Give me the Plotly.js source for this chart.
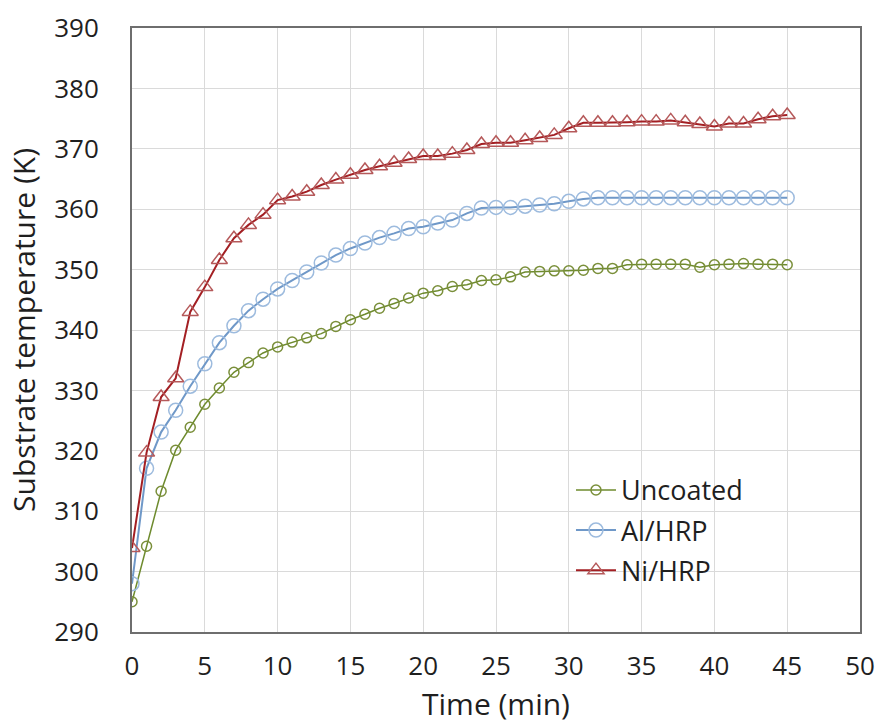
<!DOCTYPE html>
<html>
<head>
<meta charset="utf-8">
<script src="https://cdn.plot.ly/plotly-3.0.1.min.js"></script>
<style>html,body{margin:0;padding:0;background:#fff;}#chart{width:879px;height:724px;}</style>
</head>
<body>
<div id="chart"></div>
<script>
const timeMin = [0,1,2,3,4,5,6,7,8,9,10,11,12,13,14,15,16,17,18,19,20,21,22,23,24,25,26,27,28,29,30,31,32,33,34,35,36,37,38,39,40,41,42,43,44,45];
const uncoated = [295.0,304.2,313.3,320.1,323.9,327.7,330.4,333.0,334.6,336.2,337.2,338.0,338.7,339.4,340.6,341.7,342.6,343.6,344.4,345.3,346.1,346.5,347.2,347.5,348.2,348.3,348.8,349.6,349.7,349.8,349.8,349.9,350.2,350.2,350.8,350.9,350.9,350.9,350.9,350.4,350.8,350.9,351.0,350.9,350.9,350.8];
const alHRP = [298.0,317.1,323.1,326.7,330.7,334.4,337.9,340.7,343.2,345.1,346.8,348.2,349.6,351.1,352.4,353.5,354.4,355.3,356.0,356.8,357.1,357.7,358.2,359.3,360.2,360.3,360.3,360.5,360.7,360.9,361.3,361.7,361.9,361.9,361.9,361.9,361.9,361.9,361.9,361.9,361.9,361.9,361.9,361.9,361.9,361.9];
const niHRP = [303.9,319.7,328.9,332.0,343.0,347.1,351.6,355.2,357.4,359.1,361.5,362.1,362.9,364.0,364.9,365.7,366.5,367.1,367.7,368.3,368.8,368.8,369.2,369.8,370.8,371.0,371.0,371.4,371.8,372.3,373.4,374.3,374.3,374.3,374.4,374.5,374.5,374.7,374.4,374.1,373.7,374.2,374.2,374.9,375.4,375.6];
const seriesNames = ["Uncoated","Al/HRP","Ni/HRP"];
const xTicks = [0,5,10,15,20,25,30,35,40,45,50];
const yTicks = [290,300,310,320,330,340,350,360,370,380,390];

const font = "'Open Sans', 'Noto Sans', 'DejaVu Sans', sans-serif";
const txt = "#1f1f1f";

const traces = [
  {x: timeMin, y: uncoated, name: seriesNames[0], legendgroup: "a", mode: "lines+markers", type: "scatter",
   line: {color: "#6E8B2E", width: 1.5},
   marker: {symbol: "circle-open", size: 10, color: "#7A8F3A", line: {width: 1.5}}},
  {x: timeMin, y: alHRP, name: seriesNames[1], legendgroup: "b", mode: "lines+markers", type: "scatter",
   line: {color: "#6F98C8", width: 2},
   marker: {symbol: "circle-open", size: 14, color: "#9DBBDE", line: {width: 1.5}}},
  {x: timeMin, y: niHRP, name: seriesNames[2], legendgroup: "c", mode: "lines+markers", type: "scatter",
   line: {color: "#A31F23", width: 2},
   marker: {symbol: "triangle-up-open", size: 14, color: "#B5595A", line: {width: 1.5}}}
];

const layout = {
  width: 879, height: 724,
  paper_bgcolor: "#ffffff", plot_bgcolor: "#ffffff",
  margin: {l: 132, r: 19, t: 28, b: 92},
  font: {family: font, color: txt, size: 26},
  showlegend: true,
  legend: {x: 0.603, y: 0.275, xanchor: "left", yanchor: "top", bgcolor: "rgba(0,0,0,0)", itemwidth: 40,
           font: {family: font, size: 27, color: txt}, traceorder: "grouped", tracegroupgap: 2},
  xaxis: {range: [0, 50], tickvals: xTicks, ticktext: xTicks.map(String), showgrid: true, gridcolor: "#DADADA", gridwidth: 1,
          zeroline: false, showline: true, linecolor: "#6E6E6E", linewidth: 2, mirror: true, ticks: "",
          tickfont: {family: font, size: 26, color: txt}, ticklabelstandoff: 10,
          title: {text: "Time (min)", font: {family: font, size: 30, color: txt}, standoff: 6}},
  yaxis: {range: [290, 390], tickvals: yTicks, ticktext: yTicks.map(String), showgrid: true, gridcolor: "#DADADA", gridwidth: 1,
          zeroline: false, showline: true, linecolor: "#6E6E6E", linewidth: 2, mirror: true, ticks: "",
          tickfont: {family: font, size: 26, color: txt}, ticklabelstandoff: 26,
          title: {text: "Substrate temperature (K)", font: {family: font, size: 30, color: txt}, standoff: 10}}
};

Plotly.newPlot("chart", traces, layout, {displayModeBar: false, staticPlot: true});
</script>
</body>
</html>
